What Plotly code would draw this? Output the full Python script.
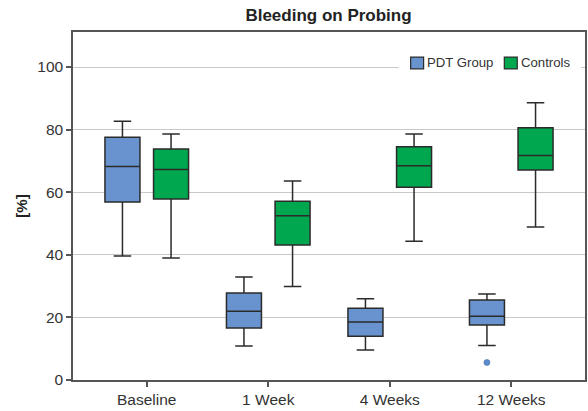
import plotly.graph_objects as go

categories = ["Baseline", "1 Week", "4 Weeks", "12 Weeks"]

pdt_low = [39.6, 10.9, 9.6, 11.0]
pdt_q1 = [56.9, 16.6, 14.0, 17.6]
pdt_med = [68.2, 22.0, 18.5, 20.4]
pdt_q3 = [77.6, 27.8, 22.9, 25.6]
pdt_high = [82.7, 32.9, 26.0, 27.5]
pdt_outlier_cat = ["12 Weeks"]
pdt_outlier_val = [5.6]

ctl_low = [39.0, 29.9, 44.3, 48.9]
ctl_q1 = [57.8, 43.1, 61.6, 67.1]
ctl_med = [67.3, 52.5, 68.5, 71.7]
ctl_q3 = [73.8, 57.1, 74.5, 80.6]
ctl_high = [78.6, 63.6, 78.6, 88.6]

y_ticks = [0, 20, 40, 60, 80, 100]
series_names = ["PDT Group", "Controls"]
series_colors = ["#6893cf", "#00a74f"]

font_family = "Liberation Sans, Arial, sans-serif"
line_col = "#2b2b2b"
BOXGAP = 0.2
GROUPGAP = 0.28
N_GROUPS = 2

pos = list(range(len(categories)))
# grouped-box slot centre offset for the first trace
shift = (1 - BOXGAP) / N_GROUPS / 2
outlier_x = [categories.index(c) - shift for c in pdt_outlier_cat]

fig = go.Figure()
fig.add_trace(go.Box(
    name=series_names[0], x=pos,
    q1=pdt_q1, median=pdt_med, q3=pdt_q3,
    lowerfence=pdt_low, upperfence=pdt_high,
    boxpoints=False,
    fillcolor=series_colors[0], line=dict(color=line_col, width=1.5),
    whiskerwidth=0.5, showlegend=False,
))
fig.add_trace(go.Box(
    name=series_names[1], x=pos,
    q1=ctl_q1, median=ctl_med, q3=ctl_q3,
    lowerfence=ctl_low, upperfence=ctl_high,
    boxpoints=False,
    fillcolor=series_colors[1], line=dict(color=line_col, width=1.5),
    whiskerwidth=0.5, showlegend=False,
))
fig.add_trace(go.Scatter(
    x=outlier_x, y=pdt_outlier_val, mode="markers", showlegend=False,
    marker=dict(color="#5b8bd0", size=6, line=dict(color="#3a5f95", width=0.5)),
))

# manual legend (layout elements, paper coordinates)
shapes = [dict(type="rect", xref="paper", yref="paper", x0=0.636, x1=0.992,
               y0=0.876, y1=0.943, fillcolor="white", line=dict(width=0), layer="above")]
annotations = []
leg_sq_x = [0.6595, 0.8424]
for name, col, sx in zip(series_names, series_colors, leg_sq_x):
    shapes.append(dict(type="rect", xref="paper", yref="paper", x0=sx, x1=sx + 0.0253,
                       y0=0.894, y1=0.928, fillcolor=col,
                       line=dict(color=line_col, width=1.2), layer="above"))
    annotations.append(dict(xref="paper", yref="paper", x=sx + 0.028, y=0.911,
                            xanchor="left", yanchor="middle", showarrow=False,
                            text=name, font=dict(size=13.2, color="#333333")))

fig.update_layout(
    width=588, height=411,
    margin=dict(l=73, r=1, t=32, b=31),
    paper_bgcolor="white", plot_bgcolor="white",
    boxmode="group", boxgap=BOXGAP, boxgroupgap=GROUPGAP,
    font=dict(family=font_family, size=15, color="#333333"),
    title=dict(text="<b>Bleeding on Probing</b>", x=328.5 / 588, xanchor="center",
               y=1 - 15 / 411, yanchor="middle", font=dict(size=17, color="#222222")),
    shapes=shapes, annotations=annotations,
    showlegend=False,
)
fig.update_xaxes(
    range=[-0.607, 3.607], tickvals=pos, ticktext=categories,
    showline=True, linecolor="#555555", linewidth=1.5, mirror=True,
    ticks="outside", ticklen=5, tickcolor="#555555", tickwidth=1.5,
    showgrid=False, zeroline=False, tickfont=dict(size=15.5, color="#333333"),
)
fig.update_yaxes(
    range=[0, 111.2], tickvals=y_ticks,
    showline=True, linecolor="#555555", linewidth=1.5, mirror=True,
    ticks="outside", ticklen=5, tickcolor="#555555", tickwidth=1.5,
    showgrid=True, gridcolor="#c8c8c8", gridwidth=1,
    zeroline=False, tickfont=dict(size=15.5, color="#333333"),
    title=dict(text="<b>[%]</b>", standoff=6, font=dict(size=15, color="#222222")),
)

fig.write_html("out.html")
